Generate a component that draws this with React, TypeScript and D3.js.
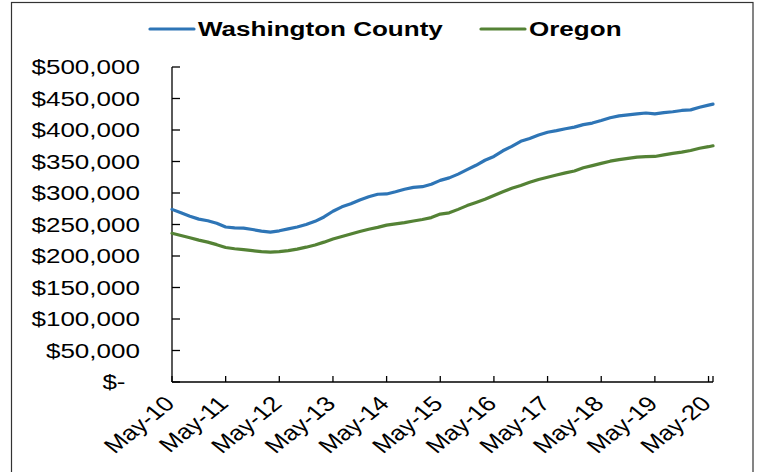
import React from "react";
import * as d3 from "d3";

const sampleDates = [
  "2010-05", "2010-07", "2010-09", "2010-11",
  "2011-01", "2011-03", "2011-05", "2011-07", "2011-09", "2011-11",
  "2012-01", "2012-03", "2012-05", "2012-07", "2012-09", "2012-11",
  "2013-01", "2013-03", "2013-05", "2013-07", "2013-09", "2013-11",
  "2014-01", "2014-03", "2014-05", "2014-07", "2014-09", "2014-11",
  "2015-01", "2015-03", "2015-05", "2015-07", "2015-09", "2015-11",
  "2016-01", "2016-03", "2016-05", "2016-07", "2016-09", "2016-11",
  "2017-01", "2017-03", "2017-05", "2017-07", "2017-09", "2017-11",
  "2018-01", "2018-03", "2018-05", "2018-07", "2018-09", "2018-11",
  "2019-01", "2019-03", "2019-05", "2019-07", "2019-09", "2019-11",
  "2020-01", "2020-03", "2020-05", "2020-06",
];

// values in thousands of dollars
const washingtonCounty = [
  274, 268.5, 263, 258.5, 256, 252, 246, 244.5, 244.3, 242, 239.5, 238,
  240, 243, 246, 250, 255, 262, 271, 278, 283, 289, 294, 298,
  298.5, 302, 306, 309, 310, 314, 320, 324, 330, 337, 344, 352,
  358, 367, 374, 382, 386.5, 392, 396.5, 399, 402, 404.5, 408.5, 411,
  415, 419.5, 422.5, 424, 425.5, 427, 425.5, 427.5, 429, 431, 432, 436,
  439.5, 441,
];

const oregon = [
  236, 232.5, 229, 225.2, 222, 218, 213.5, 211.5, 210, 208.5, 207, 206,
  207, 208.5, 211, 214, 217.5, 222, 227, 231, 235, 239, 242.5, 245.5,
  249, 251, 253, 255.5, 258, 261, 266.5, 268.5, 274, 280, 285, 290,
  296, 302, 307.5, 312, 317, 321.5, 325, 328.5, 332, 335, 340, 343.5,
  347, 350.5, 353, 355, 357, 357.6, 358, 360.5, 363, 365, 367.5, 371,
  373.5, 375,
];

const seriesNames = ["Washington County", "Oregon"];
const seriesColors = ["#2E75B6", "#548235"];

const xTickDates = [
  "2010-05", "2011-05", "2012-05", "2013-05", "2014-05", "2015-05",
  "2016-05", "2017-05", "2018-05", "2019-05", "2020-05",
];
const xTickLabels = [
  "May-10", "May-11", "May-12", "May-13", "May-14", "May-15",
  "May-16", "May-17", "May-18", "May-19", "May-20",
];
const yTickValues = [0, 50000, 100000, 150000, 200000, 250000, 300000, 350000, 400000, 450000, 500000];
const yTickLabels = [
  "$-\u00A0\u00A0", "$50,000", "$100,000", "$150,000", "$200,000", "$250,000",
  "$300,000", "$350,000", "$400,000", "$450,000", "$500,000",
];

const monthIndex = (s: string) => {
  const [yy, mm] = s.split("-").map(Number);
  return (yy - 2010) * 12 + (mm - 5);
};

const FONT = "'Liberation Sans', Arial, sans-serif";
const SX = 1.24;

export default function App() {
  const W = 759, H = 472;
  const x = d3.scaleLinear().domain([0, 121]).range([172, 713]);
  const y = d3.scaleLinear().domain([0, 500000]).range([382, 67]);
  const idx = sampleDates.map(monthIndex);
  const line = d3
    .line<number>()
    .x((_, i) => x(idx[i]))
    .y((d) => y(d * 1000));
  const series = [washingtonCounty, oregon];
  const xEnd = x(121);

  const legendPos = [
    { lx: 150, tx: 198 },
    { lx: 481, tx: 529 },
  ];

  return (
    <svg
      width={W}
      height={H}
      style={{ position: "absolute", left: 0, top: 0, background: "#fff" }}
      fontFamily={FONT}
    >
      <rect x={0} y={0} width={W} height={H} fill="#fff" />
      <rect x={11.5} y={2.5} width={741.5} height={490} fill="none" stroke="#333" strokeWidth={1.2} />

      {/* legend */}
      {seriesNames.map((name, i) => (
        <g key={name}>
          <line
            x1={legendPos[i].lx}
            x2={legendPos[i].lx + 44}
            y1={29}
            y2={29}
            stroke={seriesColors[i]}
            strokeWidth={3.2}
            strokeLinecap="round"
          />
          <text
            transform={`translate(${legendPos[i].tx},36) scale(${SX},1)`}
            fontSize={21}
            fontWeight="bold"
            fill="#000"
          >
            {name}
          </text>
        </g>
      ))}

      {/* y axis */}
      <line x1={172} x2={172} y1={y(500000)} y2={y(0)} stroke="#000" strokeWidth={1.3} />
      {yTickValues.map((v, i) => (
        <g key={v}>
          <line x1={172} x2={180} y1={y(v)} y2={y(v)} stroke="#000" strokeWidth={1.3} />
          <text
            transform={`translate(140,${y(v)}) scale(${SX},1)`}
            textAnchor="end"
            dy="0.35em"
            fontSize={21}
            fill="#000"
          >
            {yTickLabels[i]}
          </text>
        </g>
      ))}

      {/* x axis */}
      <line x1={172} x2={xEnd} y1={382} y2={382} stroke="#000" strokeWidth={1.3} />
      {xTickDates.map((d, i) => {
        const tx = x(monthIndex(d));
        return (
          <g key={d}>
            <line x1={tx} x2={tx} y1={382} y2={376} stroke="#000" strokeWidth={1.3} />
            <text
              transform={`translate(${tx + 4},405) scale(${SX},1) rotate(-45)`}
              textAnchor="end"
              fontSize={21}
              fill="#000"
            >
              {xTickLabels[i]}
            </text>
          </g>
        );
      })}
      <line x1={xEnd} x2={xEnd} y1={382} y2={376} stroke="#000" strokeWidth={1.3} />

      {/* series */}
      {series.map((vals, i) => (
        <path
          key={seriesNames[i]}
          d={line(vals) || ""}
          fill="none"
          stroke={seriesColors[i]}
          strokeWidth={3.2}
          strokeLinejoin="round"
          strokeLinecap="round"
        />
      ))}
    </svg>
  );
}
